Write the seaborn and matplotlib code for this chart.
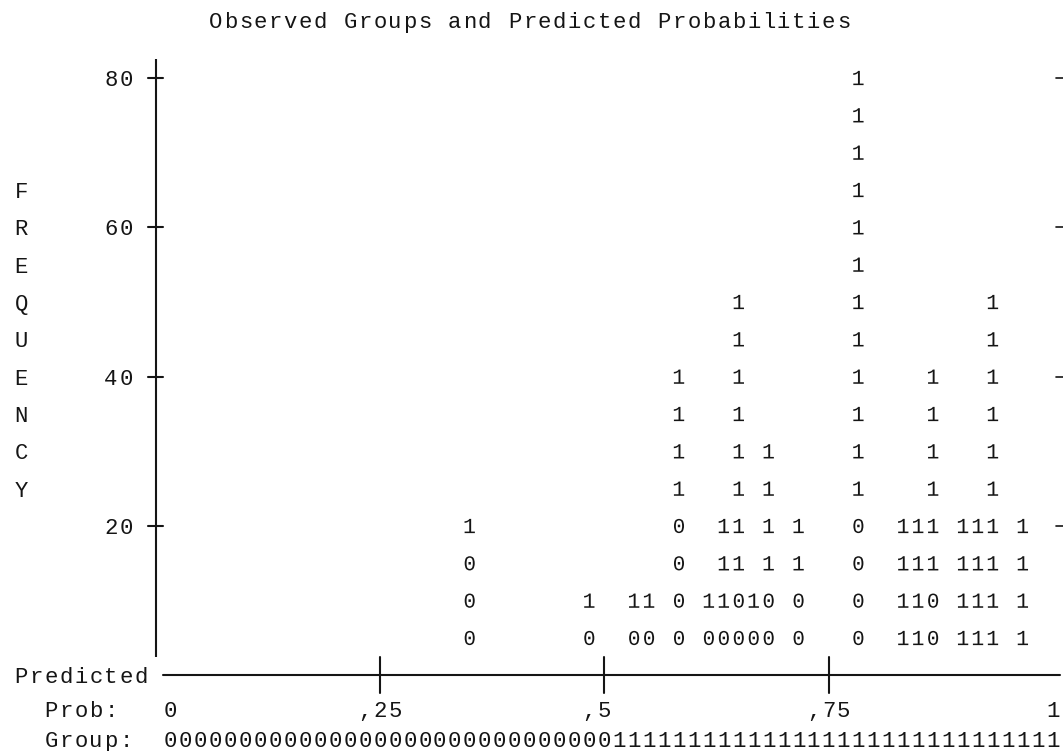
import numpy as np
import pandas as pd
import matplotlib
matplotlib.use("Agg")
import matplotlib.pyplot as plt
import seaborn as sns

# ---------------- data ----------------
title = "Observed Groups and Predicted Probabilities"
# predicted-probability bin (0..59, 60 bins over 0..1) holding a stack of symbols
bins = [20, 28, 31, 32, 34, 36, 37, 38, 39, 40, 42, 46, 49, 50, 51, 53, 54, 55, 57]
# observed group symbols in each bin, listed from the bottom of the stack upwards
stacks = ["0001", "01", "01", "01", "00001111", "01", "0111", "0011111111", "01",
          "001111", "0011", "0000111111111111", "1111", "1111", "00111111",
          "1111", "1111", "1111111111", "1111"]
cases_per_symbol = 5
y_ticks = [20, 40, 60, 80]
y_tick_labels = ["20", "40", "60", "80"]
y_label = "FREQUENCY"
x_tick_bins = [14, 29, 44]
prob_labels = ["0", ",25", ",5", ",75", "1"]
prob_label_bins = [0, 13, 28, 43, 59]
group_string = "000000000000000000000000000000111111111111111111111111111111"

# ---------------- build table ----------------
recs = []
for b, s in zip(bins, stacks):
    for i, ch in enumerate(s):
        recs.append({"bin": b, "freq": (i + 1) * cases_per_symbol, "group": ch})
df = pd.DataFrame(recs)

sns.set_theme(style="white")
plt.rcParams["font.family"] = ["Liberation Mono", "DejaVu Sans"]
plt.rcParams["mathtext.fontset"] = "custom"
plt.rcParams["mathtext.rm"] = "Liberation Mono"
plt.rcParams["mathtext.default"] = "rm"

INK = "#151515"
PITCH = 14.95      # pixels per character column
X0 = 170.7         # pixel of column 0 centre
PX_PER_UNIT = 7.4667
Y80 = 78.0

fig = plt.figure(figsize=(10.63, 7.51), dpi=100)
ax = fig.add_axes([0, 0, 1, 1])
ax.set_xlim(-X0 / PITCH, (1063 - X0) / PITCH)
ax.set_ylim(80 - (751 - Y80) / PX_PER_UNIT, 80 + Y80 / PX_PER_UNIT)
ax.axis("off")

# symbols
sns.scatterplot(data=df, x="bin", y="freq", style="group",
                markers={"0": r"$\mathrm{0}$", "1": r"$\mathrm{1}$"},
                s=105, color=INK, linewidth=0, legend=False, ax=ax)

FS = 16

def put(text, col, y):
    for i, ch in enumerate(text):
        if ch != " ":
            ax.text(col + i, y, ch, ha="center", va="center_baseline",
                    fontsize=FS, color=INK)

# title
put(title, 3, 87.8)

# y axis
ax.plot([-1, -1], [2.5, 82.5], color=INK, lw=1.5, solid_capstyle="butt")
for t, lab in zip(y_ticks, y_tick_labels):
    ax.plot([-1.5, -0.5], [t, t], color=INK, lw=1.5)
    ax.plot([59.25, 60.5], [t, t], color=INK, lw=1.2)
    put(lab, -2 - len(lab), t)

# vertical axis title
for i, ch in enumerate(y_label):
    put(ch, -10, 65 - 5 * i)

# x axis
put("Predicted", -10, 0)
ax.plot([-0.5, 59.5], [0, 0], color=INK, lw=1.5)
for c in x_tick_bins:
    ax.plot([c, c], [-2.4, 2.4], color=INK, lw=1.5)
put("Prob:", -8, -4.5)
for lab, c in zip(prob_labels, prob_label_bins):
    put(lab, c, -4.5)
put("Group:", -8, -8.5)
put(group_string, 0, -8.5)

fig.savefig("out.png", dpi=100, facecolor="white")
